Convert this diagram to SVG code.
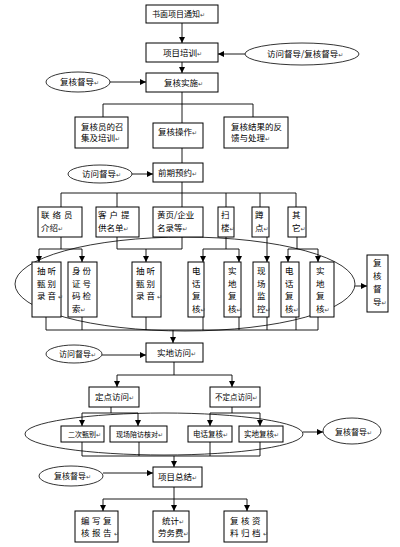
<svg xmlns="http://www.w3.org/2000/svg" width="400" height="547" viewBox="0 0 400 547">
<style>
.b{fill:#fff;stroke:#000;stroke-width:1}
.e{fill:#fff;stroke:#000;stroke-width:0.8}
.g{fill:none;stroke:#000;stroke-width:0.8}
.l{fill:none;stroke:#000;stroke-width:0.9}
.a{marker-end:url(#ar)}
text{font-family:"Noto Sans CJK SC","Noto Sans",sans-serif;font-size:8.5px;fill:#000}
.s{font-size:8px}
.t{font-size:7.5px}
.u{font-size:7px}
.m{font-size:6px;fill:#444;font-family:"DejaVu Sans",sans-serif}
.w{letter-spacing:3px}
.v{letter-spacing:2px}
.x{letter-spacing:2.5px}
</style>
<defs>
<marker id="ar" markerWidth="6" markerHeight="6" refX="6" refY="3" orient="auto" markerUnits="userSpaceOnUse">
<path d="M0,0 L6,3 L0,6 z" fill="#000"/>
</marker>
</defs>
<rect width="400" height="547" fill="#fff"/>
<g id="groups">
<ellipse class="g" cx="185" cy="284" rx="170" ry="47"/>
<ellipse class="g" cx="164" cy="434" rx="139" ry="21"/>
</g>
<g id="connectors">
<path class="l a" d="M182,23 V43"/>
<path class="l a" d="M245,54 H218"/>
<path class="l a" d="M182,62 V73"/>
<path class="l a" d="M110,82 H146"/>
<path class="l" d="M182,92 V123 M103,104 H253 M103,104 V117 M253,104 V117"/>
<path class="l" d="M182,148 V163"/>
<path class="l a" d="M132,174 H153"/>
<path class="l" d="M182,182 V207 M61,193 H296 M61,193 V207 M117,193 V207 M226,193 V207 M260,193 V207 M296,193 V207"/>
<path class="l" d="M61,237 V249 M39,249 H82"/>
<path class="l a" d="M39,249 V262"/>
<path class="l a" d="M82,249 V262"/>
<path class="l" d="M117,237 V249 H182 M182,237 V249"/>
<path class="l a" d="M146,249 V262"/>
<path class="l" d="M226,237 V249 M203,249 H239"/>
<path class="l a" d="M203,249 V262"/>
<path class="l a" d="M239,249 V262"/>
<path class="l a" d="M267,237 V262"/>
<path class="l" d="M297,237 V249 M288,249 H318"/>
<path class="l a" d="M288,249 V262"/>
<path class="l a" d="M318,249 V262"/>
<path class="l" d="M46,317 V330 M82,317 V330 M146,317 V330 M203,317 V330 M239,317 V330 M267,317 V330 M296,317 V330 M318,317 V330 M46,330 H318"/>
<path class="l a" d="M173,330 V343"/>
<path class="l a" d="M355,286 H367"/>
<path class="l a" d="M102,355 H146"/>
<path class="l" d="M174,362 V375 M117,375 H232"/>
<path class="l a" d="M117,375 V387"/>
<path class="l a" d="M232,375 V387"/>
<path class="l" d="M111,407 V413 M82,413 H138"/>
<path class="l a" d="M82,413 V426"/>
<path class="l a" d="M138,413 V426"/>
<path class="l" d="M232,407 V413 M210,413 H260"/>
<path class="l a" d="M210,413 V426"/>
<path class="l a" d="M260,413 V426"/>
<path class="l" d="M82,442 V456 M139,442 V456 M210,442 V456 M260,442 V456 M82,456 H260"/>
<path class="l a" d="M174,456 V467"/>
<path class="l a" d="M303,432 H323"/>
<path class="l a" d="M103,473 H153"/>
<path class="l" d="M174,487 V499 M103,499 H247"/>
<path class="l a" d="M103,499 V511"/>
<path class="l a" d="M174,499 V511"/>
<path class="l a" d="M247,499 V511"/>
</g>
<g id="n1"><rect class="b" x="146" y="5" width="72" height="18"/><text class="s" x="152" y="17">书面项目通知<tspan class="m">↵</tspan></text></g>
<g id="n2"><rect class="b" x="146" y="43" width="72" height="19"/><text x="163" y="55.5">项目培训<tspan class="m">↵</tspan></text></g>
<g id="e1"><ellipse class="e" cx="302" cy="54" rx="57" ry="11"/><text x="267" y="57">访问督导/复核督导<tspan class="m">↵</tspan></text></g>
<g id="n3"><rect class="b" x="146" y="73" width="72" height="19"/><text x="164" y="85.5">复核实施<tspan class="m">↵</tspan></text></g>
<g id="e2"><ellipse class="e" cx="78" cy="82" rx="32" ry="10"/><text x="60" y="85">复核督导<tspan class="m">↵</tspan></text></g>
<g id="n4"><rect class="b" x="75" y="117" width="53" height="31"/><text x="81" y="130">复核员的召</text><text x="81" y="141">集及培训<tspan class="m">↵</tspan></text></g>
<g id="n5"><rect class="b" x="153" y="123" width="50" height="25"/><text x="158" y="135">复核操作<tspan class="m">↵</tspan></text></g>
<g id="n6"><rect class="b" x="224" y="117" width="64" height="31"/><text x="231" y="130">复核结果的反</text><text x="231" y="141">馈与处理<tspan class="m">↵</tspan></text></g>
<g id="e3"><ellipse class="e" cx="100" cy="174" rx="32" ry="9"/><text x="82" y="177">访问督导<tspan class="m">↵</tspan></text></g>
<g id="n7"><rect class="b" x="153" y="163" width="50" height="19"/><text x="158" y="175.5">前期预约<tspan class="m">↵</tspan></text></g>
<g id="r1"><rect class="b" x="38" y="207" width="44" height="30"/><text class="w" x="41" y="218">联络员</text><text x="41" y="231">介绍<tspan class="m">↵</tspan></text></g>
<g id="r2"><rect class="b" x="96" y="207" width="43" height="30"/><text class="w" x="98" y="218">客户提</text><text x="98" y="231">供名单<tspan class="m">↵</tspan></text></g>
<g id="r3"><rect class="b" x="153" y="207" width="50" height="30"/><text x="157" y="218">黄页/企业</text><text x="157" y="231">名录等<tspan class="m">↵</tspan></text></g>
<g id="r4"><rect class="b" x="218" y="207" width="16" height="30"/><text x="221" y="218">扫</text><text x="221" y="231">楼<tspan class="m">↵</tspan></text></g>
<g id="r5"><rect class="b" x="252" y="207" width="17" height="30"/><text x="255" y="218">蹲</text><text x="255" y="231">点<tspan class="m">↵</tspan></text></g>
<g id="r6"><rect class="b" x="288" y="207" width="18" height="30"/><text x="292" y="218">其</text><text x="292" y="231">它<tspan class="m">↵</tspan></text></g>
<g id="c1"><rect class="b" x="32" y="262" width="29" height="55"/><text class="v" x="37" y="274">抽听</text><text class="v" x="37" y="286.5">甄别</text><text class="v" x="37" y="299">录音<tspan class="m">↵</tspan></text></g>
<g id="c2"><rect class="b" x="68" y="262" width="29" height="55"/><text class="v" x="72" y="274">身份</text><text class="v" x="72" y="286.5">证号</text><text class="v" x="72" y="299">码检</text><text x="72" y="311.5">索<tspan class="m">↵</tspan></text></g>
<g id="c3"><rect class="b" x="132" y="262" width="29" height="55"/><text class="v" x="136" y="274">抽听</text><text class="v" x="136" y="286.5">甄别</text><text class="v" x="136" y="299">录音<tspan class="m">↵</tspan></text></g>
<g id="c4"><rect class="b" x="188" y="262" width="16" height="55"/><text x="192" y="274">电</text><text x="192" y="286.5">话</text><text x="192" y="299">复</text><text x="192" y="311.5">核<tspan class="m">↵</tspan></text></g>
<g id="c5"><rect class="b" x="224" y="262" width="17" height="55"/><text x="228" y="274">实</text><text x="228" y="286.5">地</text><text x="228" y="299">复</text><text x="228" y="311.5">核<tspan class="m">↵</tspan></text></g>
<g id="c6"><rect class="b" x="253" y="262" width="16" height="55"/><text x="257" y="274">现</text><text x="257" y="286.5">场</text><text x="257" y="299">监</text><text x="257" y="311.5">控<tspan class="m">↵</tspan></text></g>
<g id="c7"><rect class="b" x="281" y="262" width="18" height="55"/><text x="285" y="274">电</text><text x="285" y="286.5">话</text><text x="285" y="299">复</text><text x="285" y="311.5">核<tspan class="m">↵</tspan></text></g>
<g id="c8"><rect class="b" x="310" y="262" width="24" height="55"/><text x="316" y="274">实</text><text x="316" y="286.5">地</text><text x="316" y="299">复</text><text x="316" y="311.5">核<tspan class="m">↵</tspan></text></g>
<g id="c9"><rect class="b" x="367" y="255" width="21" height="57"/><text x="373" y="266">复</text><text x="373" y="279">核</text><text x="373" y="292">督</text><text x="373" y="305">导<tspan class="m">↵</tspan></text></g>
<g id="n8"><rect class="b" x="146" y="343" width="57" height="19"/><text x="157" y="355.5">实地访问<tspan class="m">↵</tspan></text></g>
<g id="e4"><ellipse class="e" cx="74" cy="354" rx="28" ry="9"/><text class="s" x="59" y="357">访问督导<tspan class="m">↵</tspan></text></g>
<g id="n9"><rect class="b" x="89" y="387" width="50" height="20"/><text x="95" y="400">定点访问<tspan class="m">↵</tspan></text></g>
<g id="n10"><rect class="b" x="210" y="387" width="50" height="20"/><text class="t" x="215" y="400">不定点访问<tspan class="m">↵</tspan></text></g>
<g id="d1"><rect class="b" x="61" y="426" width="43" height="16"/><text class="u" x="68" y="437">二次甄别<tspan class="m">↵</tspan></text></g>
<g id="d2"><rect class="b" x="110" y="426" width="57" height="16"/><text class="u" x="116" y="437">现场陪访核对<tspan class="m">↵</tspan></text></g>
<g id="d3"><rect class="b" x="188" y="426" width="44" height="16"/><text class="t" x="193" y="437">电话复核<tspan class="m">↵</tspan></text></g>
<g id="d4"><rect class="b" x="239" y="426" width="44" height="16"/><text class="t" x="244" y="437">实地复核<tspan class="m">↵</tspan></text></g>
<g id="e5"><ellipse class="e" cx="352" cy="431" rx="29" ry="13"/><text class="s" x="335" y="434.5">复核督导<tspan class="m">↵</tspan></text></g>
<g id="e6"><ellipse class="e" cx="71" cy="476" rx="32" ry="10"/><text class="s" x="54" y="479">复核督导<tspan class="m">↵</tspan></text></g>
<g id="n11"><rect class="b" x="153" y="467" width="49" height="20"/><text x="158" y="480">项目总结<tspan class="m">↵</tspan></text></g>
<g id="f1"><rect class="b" x="75" y="511" width="43" height="31"/><text class="x" x="81" y="524">编写复</text><text class="x" x="81" y="536">核报告<tspan class="m">↵</tspan></text></g>
<g id="f2"><rect class="b" x="153" y="511" width="36" height="31"/><text x="162" y="524">统计<tspan class="m">↵</tspan></text><text x="158" y="536">劳务费<tspan class="m">↵</tspan></text></g>
<g id="f3"><rect class="b" x="224" y="511" width="43" height="31"/><text class="x" x="230" y="524">复核资</text><text class="x" x="230" y="536">料归档<tspan class="m">↵</tspan></text></g>
</svg>
